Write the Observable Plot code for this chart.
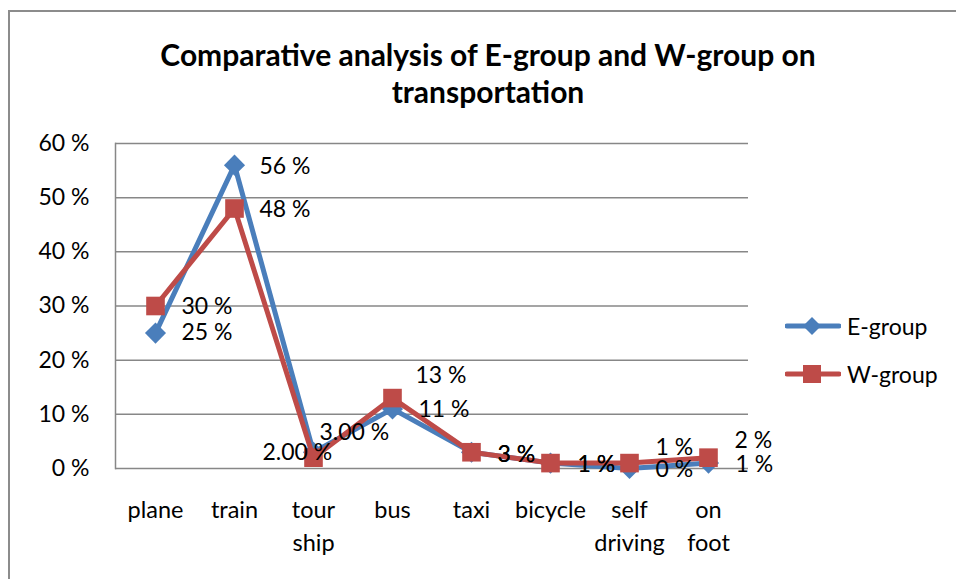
<!DOCTYPE html>
<html><head><meta charset="utf-8">
<script src="https://cdn.jsdelivr.net/npm/d3@7"></script>
<script src="https://cdn.jsdelivr.net/npm/@observablehq/plot@0.6"></script>
<style>
body{margin:0;background:#fff;}
#wrap{position:relative;width:956px;height:579px;overflow:hidden;font-family:Lato,Carlito,"Open Sans",sans-serif;color:#000;}
#frame{position:absolute;left:8px;top:10px;width:2000px;height:2000px;border-top:2px solid #8c8c8c;border-left:2px solid #8c8c8c;pointer-events:none;}
#title{position:absolute;left:0;top:36px;width:976px;text-align:center;font-weight:bold;font-size:30px;line-height:37px;}
#chart{position:absolute;left:0;top:0;}
#legend{position:absolute;left:785px;top:0;font-size:23px;}
.item{position:absolute;left:0;display:flex;align-items:center;white-space:nowrap;}
.item svg{margin-right:6px;}
</style></head>
<body>
<div id="wrap">
  <div id="chart"></div>
  <div id="title">Comparative analysis of E-group and W-group on<br>transportation</div>
  <div id="legend"></div>
  <div id="frame"></div>
</div>
<script>
const categories = ["plane","train","tour ship","bus","taxi","bicycle","self driving","on foot"];
const axisLabels = ["plane","train","tour\nship","bus","taxi","bicycle","self\ndriving","on\nfoot"];
const eGroup = [25,56,3,11,3,1,0,1];
const wGroup = [30,48,2,13,3,1,1,2];
const eLabels = ["25 %","56 %","3.00 %","11 %","3 %","1 %","0 %","1 %"];
const wLabels = ["30 %","48 %","2.00 %","13 %","3 %","1 %","1 %","2 %"];
const yTicks = [0,10,20,30,40,50,60];
const seriesNames = ["E-group","W-group"];

// label placement offsets (px) — styling, not data
const eOffsets = [[26,0],[25,1],[6,-20],[26,1],[26,2],[27,2],[26,1],[27,2]];
const wOffsets = [[26,1],[25,1],[-51,-5],[23,-22],[26,2],[27,2],[26,-15],[26,-17]];

const blue = "#4a7ebb", red = "#be4b48";
const font = "Lato, Carlito, 'Open Sans', sans-serif";

const eData = categories.map((c,i)=>({cat:c, v:eGroup[i], label:eLabels[i], i}));
const wData = categories.map((c,i)=>({cat:c, v:wGroup[i], label:wLabels[i], i}));

function labelMarks(data, offsets){
  return data.map((d,i)=>Plot.text([d], {x:"cat", y:"v", text:"label", textAnchor:"start", lineAnchor:"middle", dx:offsets[i][0], dy:offsets[i][1], fontSize:23, fill:"#000"}));
}

const chart = Plot.plot({
  width:956, height:579,
  marginLeft:115, marginRight:208, marginTop:143, marginBottom:111,
  style:{fontFamily:font, background:"transparent", overflow:"visible"},
  x:{type:"point", domain:categories, padding:0.5},
  y:{domain:[0,60]},
  marks:[
    Plot.gridY(yTicks, {stroke:"#878787", strokeOpacity:1, strokeWidth:1.5}),
    Plot.frame({anchor:"left", stroke:"#878787", strokeWidth:1.5}),
    Plot.axisY({ticks:yTicks, tickFormat:d=>d+" %", tickSize:0, tickPadding:26, fontSize:23, label:null, fill:"#000"}),
    Plot.axisX({tickFormat:d=>axisLabels[categories.indexOf(d)], tickSize:0, tickPadding:26, fontSize:23.5, lineHeight:1.41, label:null, fill:"#000"}),
    Plot.line(eData, {x:"cat", y:"v", stroke:blue, strokeWidth:5, strokeLinejoin:"round"}),
    Plot.dot(eData, {x:"cat", y:"v", symbol:"diamond2", r:9.5, fill:blue, stroke:null}),
    Plot.line(wData, {x:"cat", y:"v", stroke:red, strokeWidth:5, strokeLinejoin:"round"}),
    Plot.dot(wData, {x:"cat", y:"v", symbol:"square", r:10.5, fill:red, stroke:null}),
    ...labelMarks(eData, eOffsets),
    ...labelMarks(wData, wOffsets)
  ]
});
document.getElementById("chart").appendChild(chart);

// legend
const legend = document.getElementById("legend");
const legendY = [326, 374];
seriesNames.forEach((name, k)=>{
  const item = document.createElement("div");
  item.className = "item";
  item.style.top = (legendY[k]-16)+"px";
  item.style.height = "32px";
  const color = k===0 ? blue : red;
  const marker = k===0
    ? `<path d="M27,17 L36,26 L27,35 L18,26 Z" fill="${color}"/>`
    : `<rect x="18" y="17" width="18" height="18" fill="${color}"/>`;
  item.innerHTML = `<svg width="56" height="32" viewBox="0 10 56 32"><line x1="2" y1="26" x2="54" y2="26" stroke="${color}" stroke-width="5" stroke-linecap="round"/>${marker}</svg><span>${name}</span>`;
  legend.appendChild(item);
});
</script>
</body></html>
